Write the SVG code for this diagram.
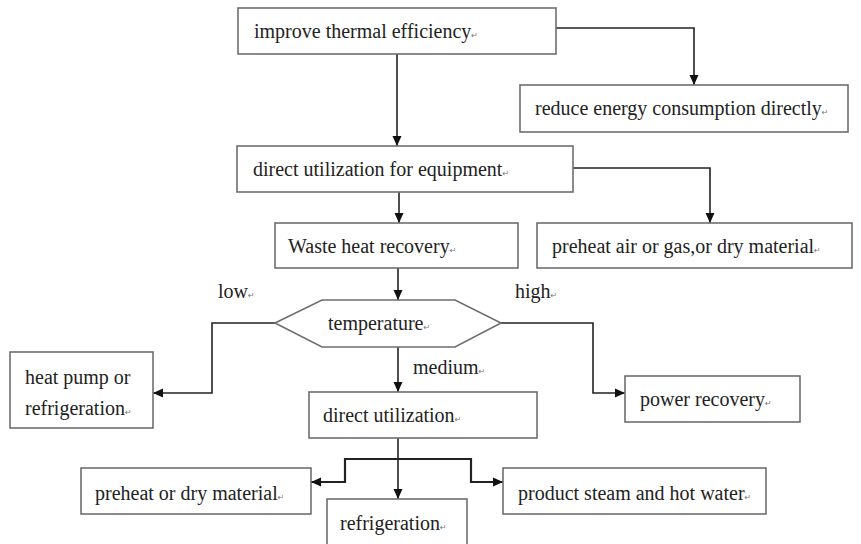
<svg xmlns="http://www.w3.org/2000/svg" width="861" height="544" viewBox="0 0 861 544">
<style>
  .box { fill: #ffffff; stroke: #6e6e6e; stroke-width: 1.6; }
  .lbl { font-family: "Liberation Serif", "Times New Roman", serif; font-size: 20px; fill: #222222; }
  .pm { font-family: "DejaVu Sans", sans-serif; font-size: 8px; fill: #777777; }
  .conn { fill: none; stroke: #222222; stroke-width: 1.6; marker-end: url(#arr); }
  .thick { stroke-width: 2.2; }
</style>
<defs>
  <marker id="arr" markerUnits="userSpaceOnUse" markerWidth="11" markerHeight="10" refX="10" refY="5" orient="auto" viewBox="0 0 10 10">
    <path d="M0,0.5 L10,5 L0,9.5 z" fill="#111111"/>
  </marker>
</defs>
<rect width="861" height="544" fill="#ffffff"/>
<g id="connectors">
  <path class="conn" d="M556,28 H694 V85"/>
  <path class="conn" d="M397,54 V146"/>
  <path class="conn" d="M573,168 H710 V223"/>
  <path class="conn" d="M399,192 V223"/>
  <path class="conn" d="M398,268 V300"/>
  <path class="conn" d="M275,323 H212 V393 H153"/>
  <path class="conn" d="M501,323 H593 V393 H625"/>
  <path class="conn" d="M398,347 V392"/>
  <path class="conn" d="M398,438 V499"/>
  <path class="conn thick" d="M398,459 H345 V482 H311"/>
  <path class="conn thick" d="M398,459 H471 V482 H503"/>
</g>
<g id="n-improve">
  <rect class="box" x="238" y="8" width="318" height="46"/>
  <text class="lbl" x="254" y="38">improve thermal efficiency<tspan class="pm">↵</tspan></text>
</g>
<g id="n-reduce">
  <rect class="box" x="520" y="85" width="328" height="47"/>
  <text class="lbl" x="535" y="115">reduce energy consumption directly<tspan class="pm">↵</tspan></text>
</g>
<g id="n-direct-equip">
  <rect class="box" x="237" y="146" width="336" height="46"/>
  <text class="lbl" x="253" y="176">direct utilization for equipment<tspan class="pm">↵</tspan></text>
</g>
<g id="n-waste">
  <rect class="box" x="275" y="223" width="243" height="45"/>
  <text class="lbl" x="288" y="253">Waste heat recovery<tspan class="pm">↵</tspan></text>
</g>
<g id="n-preheat-air">
  <rect class="box" x="537" y="223" width="315" height="45"/>
  <text class="lbl" x="552" y="253">preheat air or gas,or dry material<tspan class="pm">↵</tspan></text>
</g>
<g id="n-temperature">
  <polygon class="box" points="275,323 322,300 455,300 501,323 455,347 322,347"/>
  <text class="lbl" x="328" y="330">temperature<tspan class="pm">↵</tspan></text>
</g>
<g id="labels">
  <text class="lbl" x="218" y="298">low<tspan class="pm">↵</tspan></text>
  <text class="lbl" x="515" y="298">high<tspan class="pm">↵</tspan></text>
  <text class="lbl" x="413" y="374">medium<tspan class="pm">↵</tspan></text>
</g>
<g id="n-heatpump">
  <rect class="box" x="10" y="352" width="143" height="76"/>
  <text class="lbl" x="25" y="384">heat pump or</text>
  <text class="lbl" x="25" y="415">refrigeration<tspan class="pm">↵</tspan></text>
</g>
<g id="n-power">
  <rect class="box" x="625" y="376" width="175" height="46"/>
  <text class="lbl" x="640" y="406">power recovery<tspan class="pm">↵</tspan></text>
</g>
<g id="n-direct">
  <rect class="box" x="309" y="392" width="228" height="46"/>
  <text class="lbl" x="323" y="422">direct utilization<tspan class="pm">↵</tspan></text>
</g>
<g id="n-preheat-dry">
  <rect class="box" x="81" y="468" width="230" height="46"/>
  <text class="lbl" x="95" y="500">preheat or dry material<tspan class="pm">↵</tspan></text>
</g>
<g id="n-refrigeration">
  <rect class="box" x="327" y="499" width="140" height="50"/>
  <text class="lbl" x="340" y="530">refrigeration<tspan class="pm">↵</tspan></text>
</g>
<g id="n-steam">
  <rect class="box" x="503" y="468" width="263" height="46"/>
  <text class="lbl" x="518" y="500">product steam and hot water<tspan class="pm">↵</tspan></text>
</g>
</svg>
